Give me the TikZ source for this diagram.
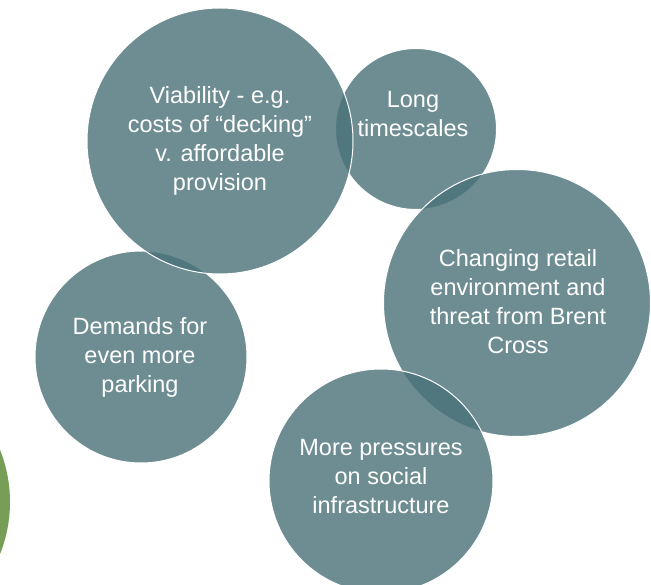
\documentclass[tikz,border=0pt]{standalone}
\usepackage{fontspec}
\setmainfont{Liberation Sans}
\definecolor{bleugris}{RGB}{73,113,120}
\definecolor{vertolive}{RGB}{118,158,86}

\begin{document}
\begin{tikzpicture}[x=1pt, y=-1pt,
    bulle/.style={circle, draw=white, line width=1pt, fill=bleugris,
                  fill opacity=0.8, inner sep=0pt},
    texte/.style={text=white, align=center, inner sep=0pt,
                  font=\fontsize{23.5}{29}\selectfont}
]
    \useasboundingbox (0,0) rectangle (651,585);

    % cercles, dans l'ordre de superposition
    \node[circle, fill=vertolive, minimum size=280pt] (vert) at (-130,502) {};
    \node[bulle, minimum size=161pt] (long) at (416,129) {};
    \node[bulle, minimum size=212pt] (demandes) at (141,357) {};
    \node[bulle, minimum size=266pt] (viab) at (220,141) {};
    \node[bulle, minimum size=267pt] (commerce) at (517,303) {};
    \node[bulle, minimum size=224pt] (pressions) at (381,481) {};

    % textes
    \node[texte] (viab-t) at ([yshift=0.5pt]viab) {Viability - e.g.\\costs of “decking”\\v. affordable\\provision};
    \node[texte] (long-t) at ([xshift=-3pt, yshift=14.5pt]long) {Long\\timescales};
    \node[texte] (commerce-t) at ([xshift=1pt, yshift=1.5pt]commerce) {Changing retail\\environment and\\threat from Brent\\Cross};
    \node[texte] (demandes-t) at ([xshift=-1pt]demandes) {Demands for\\even more\\parking};
    \node[texte] (pressions-t) at ([yshift=4.5pt]pressions) {More pressures\\on social\\infrastructure};
\end{tikzpicture}
\end{document}
